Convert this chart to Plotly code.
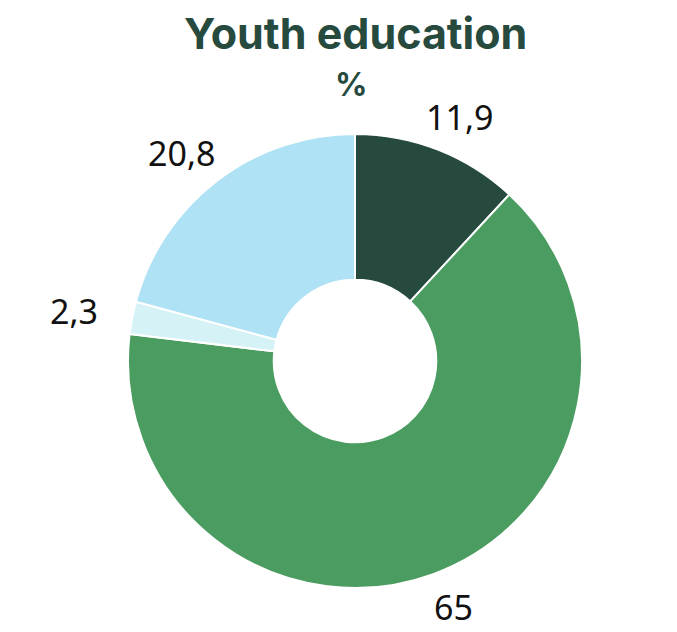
import math
import plotly.graph_objects as go

# Youth education distribution, in percent
categories = ["Category A", "Category B", "Category C", "Category D"]
values = [11.9, 65, 2.3, 20.8]
colors = ["#264a3d", "#4a9c60", "#d5f3f6", "#b0e2f5"]

W, H = 677, 632
CX, CY = 355, 361           # ring centre in pixels (from top-left)
R_RING = 227                # domain half-size for the ring
LABEL_RX, LABEL_RY = 286, 262  # label ellipse around the ring centre

ring = go.Pie(
    labels=categories,
    values=values,
    hole=0.358,
    sort=False,
    direction="clockwise",
    rotation=0,
    domain=dict(
        x=[(CX - R_RING) / W, (CX + R_RING) / W],
        y=[(H - CY - R_RING) / H, (H - CY + R_RING) / H],
    ),
    marker=dict(colors=colors, line=dict(color="white", width=2)),
    textinfo="none",
    showlegend=False,
    hoverinfo="label+value",
)

fig = go.Figure(ring)

# value labels placed around the ring at each slice's mid-angle
total = sum(values)
annotations = []
cum = 0.0
for v in values:
    mid = (cum + v / 2) / total * 2 * math.pi  # clockwise from 12 o'clock
    cum += v
    px = CX + LABEL_RX * math.sin(mid)
    py = CY - LABEL_RY * math.cos(mid)
    annotations.append(
        dict(
            text=f"{v:g}".replace(".", ","),
            x=px / W, xref="paper", xanchor="center",
            y=1 - py / H, yref="paper", yanchor="middle",
            showarrow=False,
            font=dict(family="Noto Sans", size=34, color="#111111"),
        )
    )

annotations += [
    dict(
        text="<b>Youth education</b>",
        x=CX / W, xref="paper", xanchor="center",
        y=1 - 33 / H, yref="paper", yanchor="middle",
        showarrow=False,
        font=dict(family="Inter", size=43, color="#264a3d"),
    ),
    dict(
        text="<b>%</b>",
        x=352 / W, xref="paper", xanchor="center",
        y=1 - 84 / H, yref="paper", yanchor="middle",
        showarrow=False,
        font=dict(family="Inter", size=32, color="#264a3d"),
    ),
]

fig.update_layout(
    width=W,
    height=H,
    paper_bgcolor="white",
    plot_bgcolor="white",
    margin=dict(l=0, r=0, t=0, b=0),
    annotations=annotations,
)

fig.write_html("out.html")
